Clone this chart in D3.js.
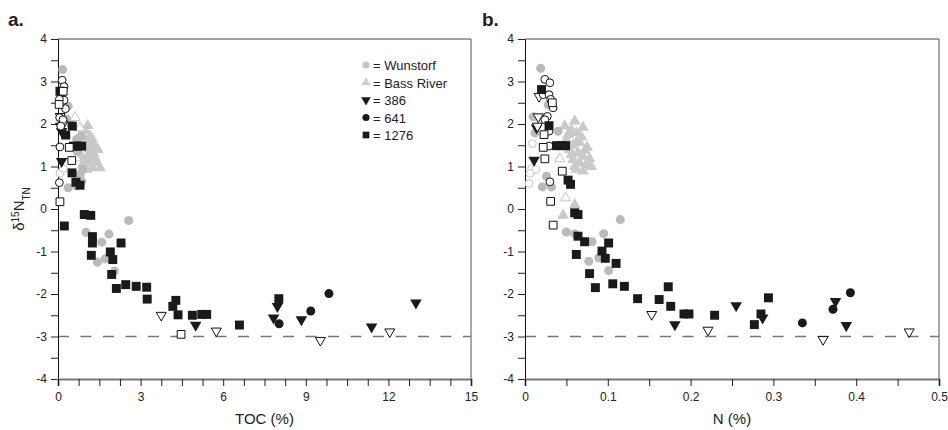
<!DOCTYPE html>
<html>
<head>
<meta charset="utf-8">
<script src="https://cdn.jsdelivr.net/npm/d3@7"></script>
<style>
  body { margin: 0; background: #fff; }
  text { font-family: "Liberation Sans", Arial, sans-serif; fill: #222; }
</style>
</head>
<body>
<svg id="chart" width="948" height="430"></svg>
<script>
// points: [x, d15N, filled(1)/open(0)]
const wunstorfA = [[0.17,3.28,1],[0.37,2.42,1],[0.30,2.12,1],[0.48,1.98,1],[0.68,1.64,1],[0.86,1.71,1],[0.70,1.35,1],[0.90,0.93,1],[0.80,0.81,1],
  [0.37,0.50,1],[0.68,0.54,1],[0.86,0.65,1],[2.57,-0.27,1],[1.02,-0.55,1],[1.85,-0.59,1],[1.59,-0.78,1],[1.72,-1.17,1],[1.43,-1.25,1],[2.05,-1.46,1],
  [0.07,0.85,0],[0.20,0.95,0]];
const bassRiverA = [[1.08,1.96,1],[0.77,1.70,1],[1.16,1.71,1],[1.25,1.64,1],[0.94,1.48,1],[1.14,1.42,1],[1.28,1.32,1],[1.06,1.23,1],[1.19,1.12,1],
  [1.40,1.09,1],[1.53,0.97,1],[1.26,0.97,1],[1.06,0.93,1],[0.86,1.24,1],[0.70,1.55,1],[0.98,1.85,1],[1.20,1.30,1],[1.35,1.20,1],[1.00,1.10,1],
  [1.45,1.40,1],[0.90,1.05,1],[1.30,1.50,1],[1.10,1.58,1],
  [0.62,2.15,0],[0.80,1.91,0],[0.66,1.20,0]];
const site386A = [[0.10,1.95,1],[0.13,1.83,1],[0.13,1.12,1],[5.00,-2.73,1],[7.97,-2.29,1],[7.83,-2.56,1],[8.84,-2.60,1],[11.39,-2.77,1],[13.00,-2.21,1],
  [0.08,2.18,0],[0.18,2.00,0],[3.75,-2.50,0],[5.75,-2.87,0],[9.53,-3.09,0],[12.05,-2.89,0]];
const site641A = [[8.03,-2.70,1],[9.18,-2.40,1],[9.84,-1.99,1],
  [0.15,3.03,0],[0.22,2.88,0],[0.12,2.65,0],[0.22,2.56,0],[0.05,2.58,0],[0.27,2.36,0],[0.06,2.15,0],[0.18,2.10,0],[0.10,1.95,0],[0.07,1.46,0],[0.05,0.62,0]];
const site1276A = [[0.07,2.77,1],[0.52,1.95,1],[0.28,1.74,1],[0.56,1.48,1],[0.71,1.48,1],[0.86,1.48,1],[0.51,0.85,1],[0.65,0.63,1],[0.80,0.56,1],
  [0.955,-0.13,1],[1.19,-0.15,1],[0.23,-0.40,1],[1.25,-0.65,1],[1.25,-0.80,1],[2.29,-0.80,1],[1.21,-1.09,1],[1.90,-1.01,1],[1.99,-1.19,1],[1.95,-1.54,1],
  [2.12,-1.87,1],[2.46,-1.78,1],[2.84,-1.82,1],[3.22,-1.84,1],[3.24,-2.12,1],[4.28,-2.15,1],[4.17,-2.29,1],[4.36,-2.49,1],[4.88,-2.50,1],[5.22,-2.48,1],
  [5.40,-2.48,1],[6.59,-2.73,1],[8.02,-2.11,1],
  [0.19,2.77,0],[0.04,2.46,0],[0.41,1.45,0],[0.50,1.14,0],[0.07,0.17,0],[4.47,-2.95,0]];

const wunstorfB = [[0.019,3.31,1],[0.010,2.17,1],[0.012,1.79,1],[0.040,1.83,1],[0.026,0.77,1],[0.021,0.52,1],[0.032,0.52,1],[0.115,-0.25,1],
  [0.050,-0.54,1],[0.060,-0.58,1],[0.081,-0.77,1],[0.095,-0.58,1],[0.077,-1.23,1],[0.089,-1.15,1],[0.101,-1.45,1],[0.028,2.45,1],
  [0.009,1.54,0],[0.008,0.95,0],[0.013,0.93,0],[0.006,0.84,0],[0.005,0.60,0]];
const bassRiverB = [[0.048,1.95,1],[0.060,2.07,1],[0.062,1.79,1],[0.050,1.64,1],[0.066,1.56,1],[0.054,1.40,1],[0.064,1.32,1],[0.070,1.24,1],
  [0.058,1.16,1],[0.066,1.08,1],[0.074,1.04,1],[0.062,0.93,1],[0.070,0.89,1],[0.075,1.45,1],[0.056,1.85,1],[0.060,0.10,1],[0.046,-0.15,1],
  [0.052,1.75,1],[0.068,1.70,1],[0.058,1.50,1],[0.072,1.38,1],[0.078,1.18,1],[0.056,1.28,1],[0.080,1.00,1],[0.064,1.62,1],[0.070,1.92,1],[0.060,1.00,1],
  [0.042,1.18,0],[0.049,0.26,0]];
const site386B = [[0.011,1.15,1],[0.014,1.91,1],[0.181,-2.72,1],[0.255,-2.27,1],[0.287,-2.56,1],[0.375,-2.17,1],[0.388,-2.74,1],
  [0.017,2.65,0],[0.016,2.17,0],[0.015,1.95,0],[0.153,-2.48,0],[0.221,-2.85,0],[0.360,-3.07,0],[0.464,-2.89,0]];
const site641B = [[0.335,-2.68,1],[0.372,-2.36,1],[0.393,-1.97,1],
  [0.024,3.05,0],[0.030,2.97,0],[0.022,2.69,0],[0.029,2.69,0],[0.031,2.58,0],[0.034,2.38,0],[0.027,2.18,0],[0.029,1.83,0],[0.029,1.48,0],[0.030,0.64,0],[0.024,2.10,0]];
const site1276B = [[0.020,2.81,1],[0.029,1.96,1],[0.038,1.49,1],[0.044,1.49,1],[0.049,1.49,1],[0.052,0.68,1],[0.055,0.58,1],[0.060,-0.09,1],
  [0.064,-0.13,1],[0.064,-0.64,1],[0.072,-0.77,1],[0.101,-0.80,1],[0.062,-1.07,1],[0.093,-0.99,1],[0.097,-1.16,1],[0.110,-1.28,1],[0.078,-1.52,1],
  [0.085,-1.85,1],[0.106,-1.76,1],[0.120,-1.82,1],[0.136,-2.11,1],[0.173,-1.83,1],[0.162,-2.13,1],[0.176,-2.29,1],[0.192,-2.47,1],[0.198,-2.47,1],
  [0.229,-2.50,1],[0.294,-2.09,1],[0.285,-2.47,1],[0.277,-2.72,1],
  [0.033,2.50,0],[0.023,1.75,0],[0.022,1.45,0],[0.024,1.18,0],[0.045,0.89,0],[0.031,0.18,0],[0.034,-0.38,0]];

const legendLabels = ["= Wunstorf", "= Bass River", "= 386", "= 641", "= 1276"];
const yTicks = [-4, -3, -2, -1, 0, 1, 2, 3, 4];
const xTicksA = [0, 3, 6, 9, 12, 15];
const xTicksB = [0, 0.1, 0.2, 0.3, 0.4, 0.5];

const svg = d3.select("#chart");
const plotTop = 39, plotBottom = 379;

// marker styles per group
const groups = [
  { key: "bass", shape: d3.symbolTriangle, rot: 0, size: 60, color: "#c9c9c9" },
  { key: "wun", shape: d3.symbolCircle, rot: 0, size: 64, color: "#bababa" },
  { key: "386", shape: d3.symbolTriangle, rot: 180, size: 58, color: "#1a1a1a" },
  { key: "641", shape: d3.symbolCircle, rot: 0, size: 64, color: "#1a1a1a" },
  { key: "1276", shape: d3.symbolSquare, rot: 0, size: 80, color: "#1a1a1a" }
];

function drawPanel(cfg) {
  const x = d3.scaleLinear().domain(cfg.xDomain).range([cfg.left, cfg.right]);
  const y = d3.scaleLinear().domain([-4, 4]).range([plotBottom, plotTop]);
  const g = svg.append("g");

  // frame
  g.append("line").attr("x1", cfg.left).attr("x2", cfg.right).attr("y1", plotTop).attr("y2", plotTop)
    .attr("stroke", "#444").attr("stroke-width", 1);
  g.append("line").attr("x1", cfg.right).attr("x2", cfg.right).attr("y1", plotTop).attr("y2", plotBottom)
    .attr("stroke", "#555").attr("stroke-width", 1);

  // dashed -3 line
  g.append("line").attr("x1", cfg.left).attr("x2", cfg.right).attr("y1", y(-3)).attr("y2", y(-3))
    .attr("stroke", "#777").attr("stroke-width", 1.5).attr("stroke-dasharray", "11,11.5");

  // y axis
  const yAxis = g.append("g").attr("transform", `translate(${cfg.left},0)`)
    .call(d3.axisLeft(y).tickValues(d3.range(-4, 4.01, 0.5)).tickSize(7).tickPadding(4)
      .tickFormat(d => yTicks.includes(d) ? d : ""));
  yAxis.select(".domain").attr("stroke", "#111");
  yAxis.selectAll(".tick line").attr("stroke", "#222");
  yAxis.selectAll("text").style("font-size", "12px").attr("fill", "#222");

  // x axis
  const xAxis = g.append("g").attr("transform", `translate(0,${plotBottom})`)
    .call(d3.axisBottom(x).tickValues(cfg.minor).tickSize(7).tickPadding(6)
      .tickFormat(d => {
        const m = cfg.major.find(v => Math.abs(v - d) < 1e-9);
        return m === undefined ? "" : String(m);
      }));
  xAxis.select(".domain").attr("stroke", "#777").attr("stroke-width", 2);
  xAxis.selectAll(".tick line").attr("stroke", "#222");
  xAxis.selectAll("text").style("font-size", "12px").attr("fill", "#222");

  g.append("text").attr("x", (cfg.left + cfg.right) / 2).attr("y", 424)
    .attr("text-anchor", "middle").style("font-size", "15px").text(cfg.title);

  g.append("text").attr("x", cfg.labelX).attr("y", 26)
    .style("font-size", "19px").style("font-weight", "bold").text(cfg.panel);

  // markers
  groups.forEach(s => {
    const pts = cfg.data[s.key];
    g.append("g").selectAll("path")
      .data(pts)
      .join("path")
      .attr("d", d => d3.symbol().type(s.shape).size(d[2] ? s.size : s.size * 0.75)())
      .attr("transform", d => `translate(${x(d[0])},${y(d[1])}) rotate(${s.rot})`)
      .attr("fill", d => d[2] ? s.color : "#fff")
      .attr("stroke", d => d[2] ? "none" : (s.color === "#1a1a1a" ? "#111" : "#c4c4c4"))
      .attr("stroke-width", 1);
  });
}

drawPanel({
  left: 58, right: 471, xDomain: [0, 15], panel: "a.", labelX: 8, title: "TOC (%)",
  minor: d3.range(0, 15.01, 0.75), major: xTicksA,
  data: { wun: wunstorfA, bass: bassRiverA, "386": site386A, "641": site641A, "1276": site1276A }
});
drawPanel({
  left: 525, right: 939, xDomain: [0, 0.5], panel: "b.", labelX: 482, title: "N (%)",
  minor: d3.range(0, 0.5001, 0.05), major: xTicksB,
  data: { wun: wunstorfB, bass: bassRiverB, "386": site386B, "641": site641B, "1276": site1276B }
});

// y axis label
const yl = svg.append("text").attr("transform", "translate(24,209) rotate(-90)")
  .attr("text-anchor", "middle").style("font-size", "15px");
yl.append("tspan").text("δ");
yl.append("tspan").attr("baseline-shift", "super").style("font-size", "10px").text("15");
yl.append("tspan").text("N");
yl.append("tspan").attr("baseline-shift", "sub").style("font-size", "10px").text("TN");

// legend
const legendSyms = [
  { shape: d3.symbolCircle, rot: 0, color: "#c4c4c4", size: 40 },
  { shape: d3.symbolTriangle, rot: 0, color: "#d0d0d0", size: 40 },
  { shape: d3.symbolTriangle, rot: 180, color: "#1a1a1a", size: 40 },
  { shape: d3.symbolCircle, rot: 0, color: "#1a1a1a", size: 40 },
  { shape: d3.symbolSquare, rot: 0, color: "#1a1a1a", size: 45 }
];
const legend = svg.append("g");
legendLabels.forEach((lab, i) => {
  const ly = 65 + i * 17.5;
  legend.append("path").attr("d", d3.symbol().type(legendSyms[i].shape).size(legendSyms[i].size)())
    .attr("transform", `translate(366,${ly}) rotate(${legendSyms[i].rot})`)
    .attr("fill", legendSyms[i].color);
  legend.append("text").attr("x", 373).attr("y", ly + 5).style("font-size", "13px").text(lab);
});
</script>
</body>
</html>
